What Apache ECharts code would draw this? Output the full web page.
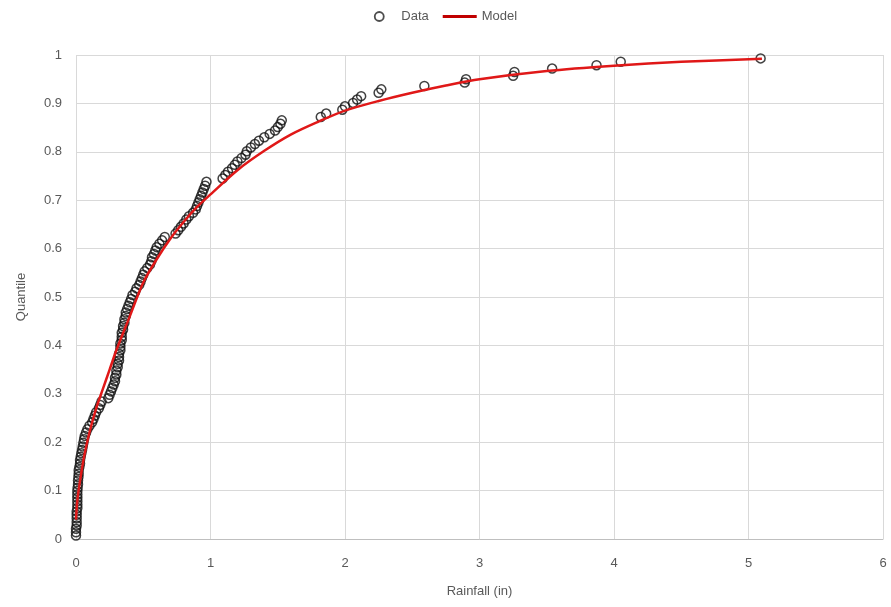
<!DOCTYPE html>
<html>
<head>
<meta charset="utf-8">
<script src="https://cdn.jsdelivr.net/npm/echarts@6/dist/echarts.min.js"></script>
<style>
  html, body { margin: 0; padding: 0; background: #fff; }
  #container { width: 891px; height: 607px; }
</style>
</head>
<body>
<div id="container"></div>
<script>
// observed rainfall, sorted
var rainfall = [
    0, 0, 0, 0.005, 0.005, 0.005, 0.005, 0.005, 0.01, 0.01,
    0.01, 0.01, 0.01, 0.01, 0.012, 0.015, 0.015, 0.018, 0.02, 0.02,
    0.025, 0.03, 0.03, 0.035, 0.04, 0.045, 0.05, 0.055, 0.06, 0.065,
    0.075, 0.085, 0.1, 0.12, 0.13, 0.14, 0.15, 0.17, 0.18, 0.19,
    0.24, 0.25, 0.26, 0.27, 0.28, 0.29, 0.29, 0.3, 0.3, 0.31,
    0.31, 0.32, 0.32, 0.32, 0.33, 0.33, 0.33, 0.34, 0.34, 0.34,
    0.35, 0.35, 0.36, 0.36, 0.37, 0.37, 0.38, 0.39, 0.4, 0.41,
    0.42, 0.44, 0.45, 0.47, 0.48, 0.49, 0.5, 0.51, 0.53, 0.55,
    0.56, 0.565, 0.58, 0.59, 0.6, 0.62, 0.64, 0.66, 0.74, 0.76,
    0.78, 0.8, 0.82, 0.84, 0.87, 0.89, 0.9, 0.91, 0.92, 0.93,
    0.94, 0.95, 0.96, 0.97, 1.09, 1.11, 1.13, 1.16, 1.18, 1.2,
    1.23, 1.26, 1.27, 1.3, 1.33, 1.36, 1.4, 1.44, 1.48, 1.5,
    1.52, 1.53, 1.82, 1.86, 1.98, 2.0, 2.06, 2.09, 2.12, 2.25,
    2.27, 2.59, 2.89, 2.9, 3.25, 3.26, 3.54, 3.87, 4.05, 5.09
];
var quantile = [
    0.007, 0.014, 0.021, 0.028, 0.035, 0.043, 0.050, 0.057, 0.064, 0.071,
    0.078, 0.085, 0.092, 0.099, 0.106, 0.113, 0.121, 0.128, 0.135, 0.142,
    0.149, 0.156, 0.163, 0.170, 0.177, 0.184, 0.191, 0.199, 0.206, 0.213,
    0.220, 0.227, 0.234, 0.241, 0.248, 0.255, 0.262, 0.270, 0.277, 0.284,
    0.291, 0.298, 0.305, 0.312, 0.319, 0.326, 0.333, 0.340, 0.348, 0.355,
    0.362, 0.369, 0.376, 0.383, 0.390, 0.397, 0.404, 0.411, 0.418, 0.426,
    0.433, 0.440, 0.447, 0.454, 0.461, 0.468, 0.475, 0.482, 0.489, 0.496,
    0.504, 0.511, 0.518, 0.525, 0.532, 0.539, 0.546, 0.553, 0.560, 0.567,
    0.574, 0.582, 0.589, 0.596, 0.603, 0.610, 0.617, 0.624, 0.631, 0.638,
    0.645, 0.652, 0.660, 0.667, 0.674, 0.681, 0.688, 0.695, 0.702, 0.709,
    0.716, 0.723, 0.730, 0.738, 0.745, 0.752, 0.759, 0.766, 0.773, 0.780,
    0.787, 0.794, 0.801, 0.809, 0.816, 0.823, 0.830, 0.837, 0.844, 0.851,
    0.858, 0.865, 0.872, 0.879, 0.887, 0.894, 0.901, 0.908, 0.915, 0.922,
    0.929, 0.936, 0.943, 0.950, 0.957, 0.965, 0.972, 0.979, 0.986, 0.993
];

// fitted model curve
var modelX = [0, 0.01, 0.03, 0.06, 0.1, 0.15, 0.2, 0.25, 0.3, 0.4, 0.5, 0.6, 0.7, 0.8, 0.9,
    1.0, 1.2, 1.4, 1.6, 1.8, 2.0, 2.25, 2.5, 2.75, 3.0, 3.5, 4.0, 4.5, 5.1];
var modelY = [0.04, 0.08, 0.12, 0.17, 0.22, 0.27, 0.31, 0.35, 0.39, 0.46, 0.53, 0.578, 0.62, 0.655, 0.686,
    0.712, 0.762, 0.802, 0.836, 0.862, 0.885, 0.905, 0.922, 0.937, 0.95, 0.967, 0.978, 0.986, 0.992];

var xTicks = ['0', '1', '2', '3', '4', '5', '6'];

var font = 'Liberation Sans Narrow, Liberation Sans, sans-serif';

var dataPts = rainfall.map(function (v, i) { return [v, quantile[i]]; });
var modelPts = modelX.map(function (v, i) { return [v, modelY[i]]; });

var ec = echarts.init(document.getElementById('container'));

var option = {
    backgroundColor: '#fff',
    animation: false,
    textStyle: {fontFamily: font, color: '#595959'},
    legend: {
        top: 5,
        left: 'center',
        itemGap: 14,
        itemWidth: 34,
        itemHeight: 9,
        textStyle: {fontSize: 13, color: '#595959', fontFamily: font},
        data: [
            {
                name: 'Data',
                icon: 'circle',
                itemStyle: {color: 'rgba(255,255,255,0)', borderColor: '#222', borderWidth: 1.8}
            },
            {
                name: 'Model',
                icon: 'path://M0,0 L36,0 L36,3 L0,3 Z',
                itemStyle: {color: '#c00000', borderWidth: 0}
            }
        ]
    },
    grid: {left: 76, right: 8, top: 55, bottom: 68},
    xAxis: {
        type: 'value',
        min: 0,
        max: 6,
        interval: 1,
        name: 'Rainfall (in)',
        nameLocation: 'middle',
        nameGap: 46,
        nameTextStyle: {fontSize: 13, color: '#595959'},
        axisLine: {show: true, lineStyle: {color: '#bfbfbf'}},
        axisTick: {show: false},
        axisLabel: {
            fontSize: 13, color: '#595959', margin: 18,
            formatter: function (v) { return xTicks[Math.round(v)]; }
        },
        splitLine: {show: true, lineStyle: {color: '#d9d9d9'}}
    },
    yAxis: {
        type: 'value',
        min: 0,
        max: 1,
        interval: 0.1,
        name: 'Quantile',
        nameLocation: 'middle',
        nameGap: 48,
        nameTextStyle: {fontSize: 13, color: '#595959'},
        axisLine: {show: false},
        axisTick: {show: false},
        axisLabel: {
            fontSize: 13, color: '#595959', margin: 14,
            formatter: function (v) { return String(Math.round(v * 10) / 10); }
        },
        splitLine: {show: true, lineStyle: {color: '#d9d9d9'}}
    },
    series: [
        {
            name: 'Data',
            type: 'scatter',
            symbol: 'circle',
            symbolSize: 9,
            itemStyle: {color: 'rgba(255,255,255,0)', borderColor: '#111', borderWidth: 1.5},
            data: dataPts,
            z: 2
        },
        {
            name: 'Model',
            type: 'line',
            smooth: 0.3,
            symbol: 'none',
            showSymbol: false,
            lineStyle: {color: '#e01818', width: 2.5},
            itemStyle: {color: '#c00000'},
            data: modelPts,
            z: 3
        }
    ]
};

ec.setOption(option);
</script>
</body>
</html>
